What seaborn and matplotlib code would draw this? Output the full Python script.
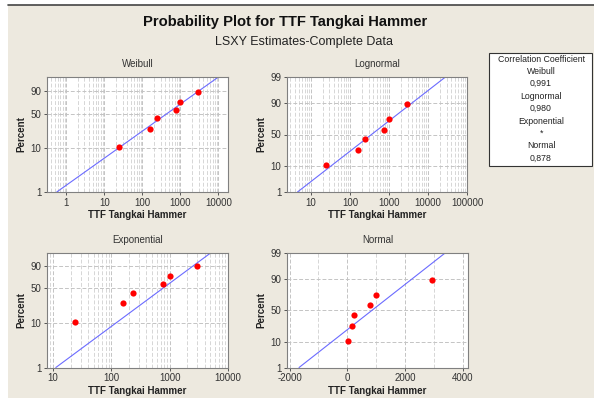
import numpy as np
import matplotlib
matplotlib.use("Agg")
import matplotlib.pyplot as plt
import seaborn as sns
from statistics import NormalDist
from matplotlib.patches import Rectangle
from matplotlib.lines import Line2D
from matplotlib.ticker import FixedLocator, FixedFormatter, LogLocator, NullFormatter, MultipleLocator

# ---------------- data ----------------
ttf = [24, 160, 240, 770, 1000, 2950]
percent = [10.9, 26.6, 42.2, 57.8, 73.4, 89.1]
panel_titles = ["Weibull", "Lognormal", "Exponential", "Normal"]
legend_lines = ["Correlation Coefficient", "Weibull", "0,991", "Lognormal", "0,980",
                "Exponential", "*", "Normal", "0,878"]
y_ticks_weibull = [1, 10, 50, 90]
y_ticks_normal = [1, 10, 50, 90, 99]
x_ticks_weibull = [1, 10, 100, 1000, 10000]
x_ticks_lognormal = [10, 100, 1000, 10000, 100000]
x_ticks_exponential = [10, 100, 1000, 10000]
x_ticks_normal = [-2000, 0, 2000, 4000]

sns.set_theme(style="ticks")
plt.rcParams["font.family"] = ["Liberation Sans", "DejaVu Sans"]

BG = "#ede9df"
LINE_C = "#6b6bff"
GRID_MAJ = "#c4c4c4"
GRID_MIN = "#d6d6d6"
TXT = "#333333"

# ---------------- probability scales ----------------
_nd = NormalDist()
_inv = np.vectorize(_nd.inv_cdf, otypes=[float])
_cdf = np.vectorize(_nd.cdf, otypes=[float])


def _clip(p):
    return np.clip(np.asarray(p, dtype=float) / 100.0, 1e-9, 1 - 1e-9)


def weib_fwd(p):
    q = _clip(p)
    return np.log(-np.log1p(-q))


def weib_inv(w):
    w = np.clip(np.asarray(w, dtype=float), -50, 5)
    return 100.0 * (1 - np.exp(-np.exp(w)))


def norm_fwd(p):
    return _inv(_clip(p))


def norm_inv(z):
    return 100.0 * _cdf(np.asarray(z, dtype=float))


t_arr = np.asarray(ttf, dtype=float)
p_arr = np.asarray(percent, dtype=float)

# LSXY fits (x regressed on y)
w_pts = weib_fwd(p_arr)
z_pts = norm_fwd(p_arr)
wb_slope, wb_int = np.polyfit(w_pts, np.log(t_arr), 1)
ln_slope, ln_int = np.polyfit(z_pts, np.log(t_arr), 1)
nm_slope, nm_int = np.polyfit(z_pts, t_arr, 1)
u_pts = -np.log1p(-p_arr / 100)
theta = np.sum(t_arr * u_pts) / np.sum(u_pts ** 2)

fig = plt.figure(figsize=(5.94, 3.98), dpi=100)
fig.patch.set_facecolor("white")
W, H = 594.0, 398.0
fig.add_artist(Rectangle((8 / W, 0), 1 - 8 / W, 1 - 5 / H, transform=fig.transFigure,
                         facecolor=BG, edgecolor="none", zorder=-10))
fig.add_artist(Line2D([8 / W, 1], [1 - 5 / H, 1 - 5 / H], transform=fig.transFigure,
                      color="#444444", lw=1.2))


def make_ax(l, t, r, b):
    return fig.add_axes([l / W, 1 - b / H, (r - l) / W, (b - t) / H])


ax_wb = make_ax(47, 77, 228, 192)
ax_ln = make_ax(287, 77, 467, 192)
ax_ex = make_ax(47, 253, 228, 367.5)
ax_nm = make_ax(287, 253, 468, 367.5)


def style(ax, title, yticks, xticks, ylim, xlim, xlog):
    ax.set_facecolor("white")
    if xlog:
        ax.set_xscale("log")
    ax.set_xlim(*xlim)
    ax.set_ylim(*ylim)
    ax.yaxis.set_major_locator(FixedLocator(yticks))
    ax.yaxis.set_major_formatter(FixedFormatter([str(v) for v in yticks]))
    ax.yaxis.set_minor_locator(FixedLocator([]))
    ax.xaxis.set_major_locator(FixedLocator(xticks))
    ax.xaxis.set_major_formatter(FixedFormatter([str(v) for v in xticks]))
    if xlog:
        ax.xaxis.set_minor_locator(LogLocator(base=10, subs=np.arange(2, 10), numticks=20))
        ax.xaxis.set_minor_formatter(NullFormatter())
    else:
        ax.xaxis.set_minor_locator(MultipleLocator(1000))
    ax.xaxis.grid(True, which="major", ls=(0, (4, 2)), color=GRID_MAJ, lw=0.7)
    ax.xaxis.grid(True, which="minor", ls=(0, (4, 2)), color=GRID_MIN, lw=0.7)
    ax.yaxis.grid(True, which="major", ls=(0, (4, 2)), color=GRID_MAJ, lw=0.7)
    ax.set_axisbelow(True)
    ax.tick_params(which="major", length=2.5, width=0.7, color="#555555", labelsize=7,
                   labelcolor=TXT, pad=1.5)
    ax.tick_params(which="minor", length=0)
    for s in ax.spines.values():
        s.set_color("#808080")
        s.set_linewidth(0.8)
    ax.set_title(title, fontsize=7, color=TXT, pad=7)
    ax.set_ylabel("Percent", fontsize=7, fontweight="bold", color="#222222", labelpad=3)
    ax.set_xlabel("TTF Tangkai Hammer", fontsize=7, fontweight="bold", color="#222222", labelpad=2)


def draw(ax, line_x, line_y):
    sns.lineplot(x=line_x, y=line_y, ax=ax, color=LINE_C, lw=0.8, sort=False,
                 estimator=None, legend=False)
    sns.scatterplot(x=ttf, y=percent, ax=ax, color="#ff0000", s=20, linewidth=0,
                    zorder=4, legend=False)


# Weibull
ax_wb.set_yscale("function", functions=(weib_fwd, weib_inv))
wb_top = 99.33
style(ax_wb, panel_titles[0], y_ticks_weibull, x_ticks_weibull, (1, wb_top), (0.31, 17800), True)
yl = np.array([1.0, wb_top])
draw(ax_wb, np.exp(wb_int + wb_slope * weib_fwd(yl)), yl)

# Lognormal
ax_ln.set_yscale("function", functions=(norm_fwd, norm_inv))
style(ax_ln, panel_titles[1], y_ticks_normal, x_ticks_lognormal, (1, 99), (2.45, 100000), True)
yl = np.array([1.0, 99.0])
draw(ax_ln, np.exp(ln_int + ln_slope * norm_fwd(yl)), yl)

# Exponential
ax_ex.set_yscale("function", functions=(weib_fwd, weib_inv))
ex_top = 98.9
style(ax_ex, panel_titles[2], y_ticks_weibull, x_ticks_exponential, (1, ex_top), (7.9, 10000), True)
yl = np.array([1.0, ex_top])
draw(ax_ex, theta * (-np.log1p(-yl / 100)), yl)

# Normal
ax_nm.set_yscale("function", functions=(norm_fwd, norm_inv))
style(ax_nm, panel_titles[3], y_ticks_normal, x_ticks_normal, (1, 99), (-2090, 4180), False)
yl = np.array([1.0, 99.0])
draw(ax_nm, nm_int + nm_slope * norm_fwd(yl), yl)

# Titles
fig.text(285 / W, 1 - 22 / H, "Probability Plot for TTF Tangkai Hammer", ha="center", va="center",
         fontsize=10.6, fontweight="bold", color="#111111")
fig.text(304 / W, 1 - 42 / H, "LSXY Estimates-Complete Data", ha="center", va="center",
         fontsize=9, color="#222222")

# Correlation box
fig.add_artist(Rectangle((489 / W, 1 - 166 / H), 103 / W, 113 / H, transform=fig.transFigure,
                         facecolor="white", edgecolor="#333333", lw=0.8))
for i, s in enumerate(legend_lines):
    fig.text(541 / W, 1 - (59 + i * 12.4) / H, s, ha="center", va="center", fontsize=6.3,
             color="#222222")

fig.savefig("out.png", dpi=100, facecolor=fig.get_facecolor())
